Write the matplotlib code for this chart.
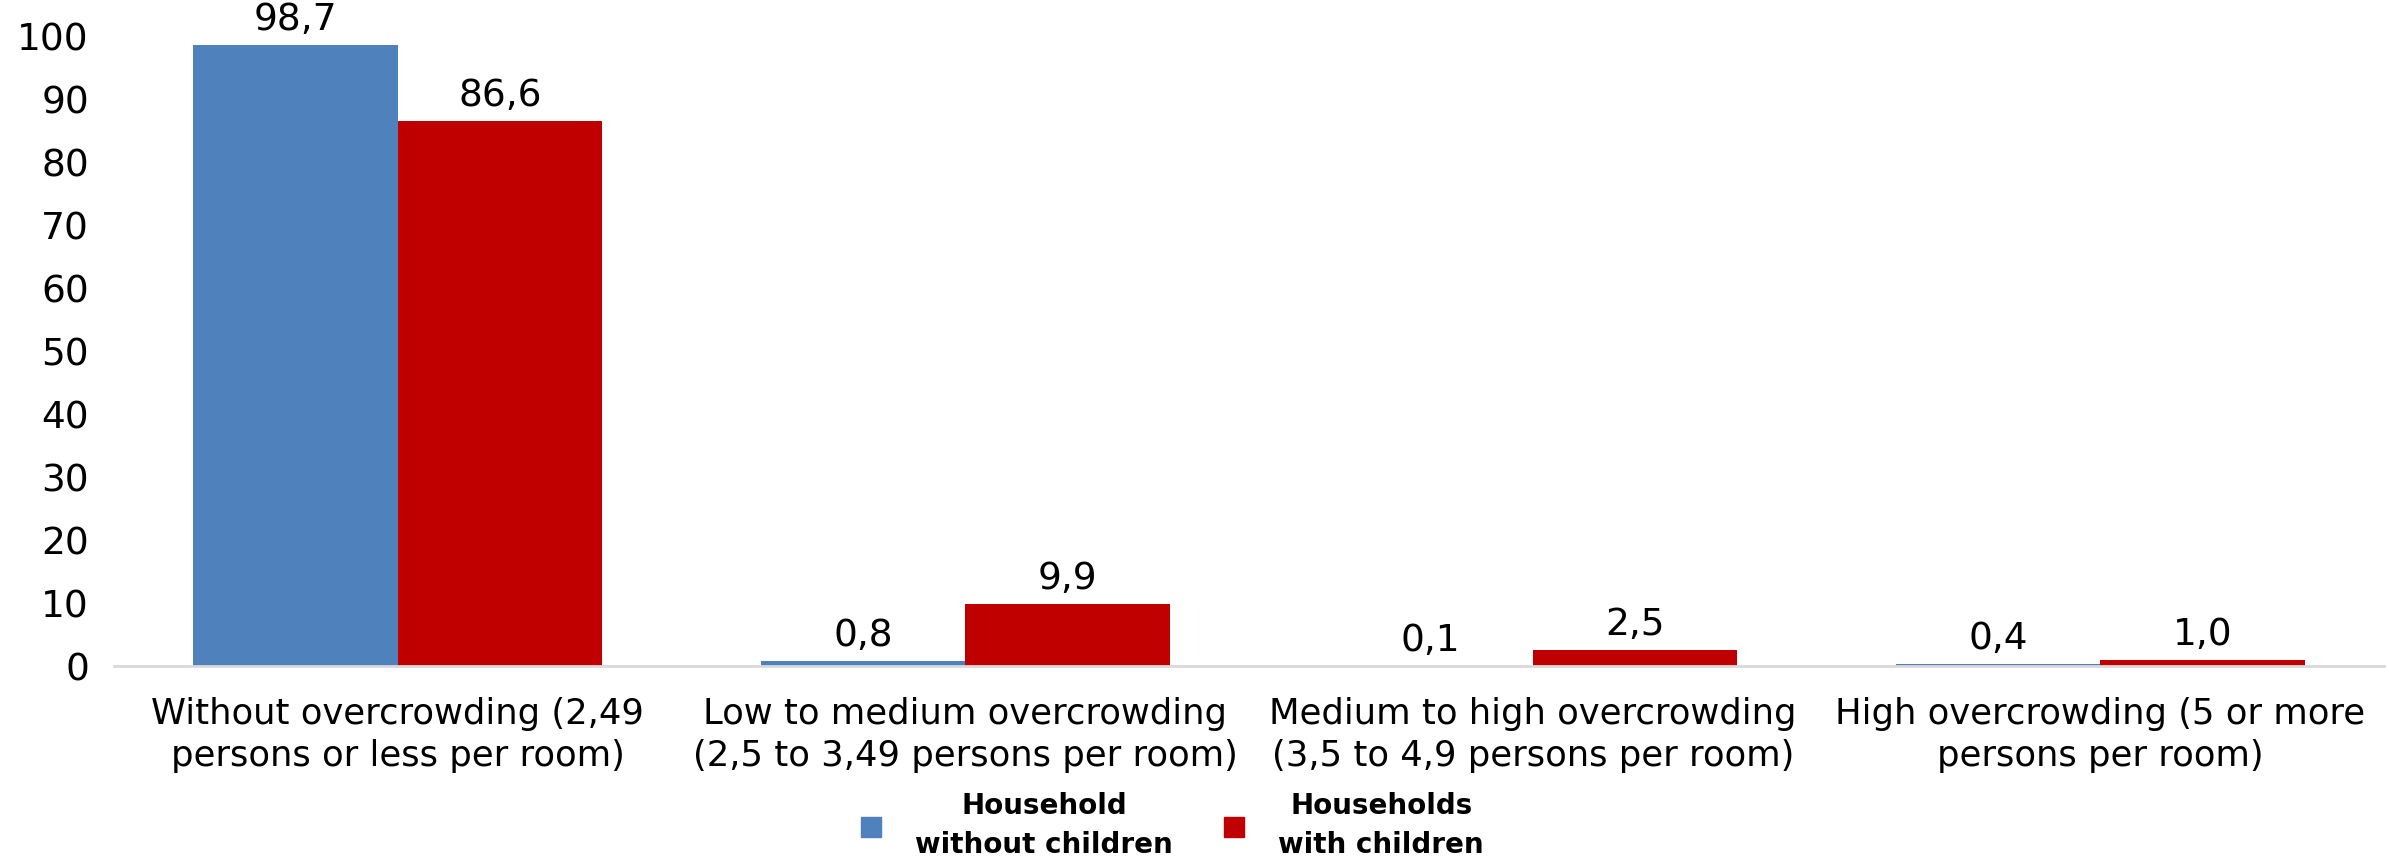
import matplotlib.pyplot as plt
from matplotlib.lines import Line2D
import numpy as np

# datos
categorias = [
    "Without overcrowding (2,49\npersons or less per room)",
    "Low to medium overcrowding\n(2,5 to 3,49 persons per room)",
    "Medium to high overcrowding\n(3,5 to 4,9 persons per room)",
    "High overcrowding (5 or more\npersons per room)",
]
sin_ninos = [98.7, 0.8, 0.1, 0.4]
con_ninos = [86.6, 9.9, 2.5, 1.0]
series_labels = ["Household\nwithout children", "Households\nwith children"]

azul = "#4f81bd"
rojo = "#c00000"

plt.rcParams["font.family"] = ["DejaVu Sans"]

fig = plt.figure(figsize=(23.89, 8.64), dpi=100)
ax = fig.add_axes([0.0477, 0.229, 0.9503, 0.7286])

x = np.arange(len(categorias))
ancho = 0.36
b1 = ax.bar(x - ancho / 2, sin_ninos, ancho, color=azul)
b2 = ax.bar(x + ancho / 2, con_ninos, ancho, color=rojo)

# etiquetas de valores
for barras in (b1, b2):
    for b in barras:
        v = b.get_height()
        ax.annotate(f"{v:.1f}".replace(".", ","),
                    (b.get_x() + b.get_width() / 2, v),
                    xytext=(0, 5), textcoords="offset points",
                    ha="center", va="bottom", fontsize=27, annotation_clip=False)

ax.set_xlim(-0.5, len(categorias) - 0.5)
ax.set_ylim(0, 100)
ax.set_yticks(range(0, 101, 10))
ax.tick_params(axis="y", length=0, labelsize=27, pad=18)
ax.set_xticks(x)
ax.set_xticklabels(categorias, fontsize=25.5, linespacing=1.3)
ax.tick_params(axis="x", length=0, pad=22)

for s in ["top", "right", "left"]:
    ax.spines[s].set_visible(False)
ax.spines["bottom"].set_color("#d9d9d9")
ax.spines["bottom"].set_linewidth(2)

# leyenda
handles = [Line2D([], [], marker="s", linestyle="", color=azul, markersize=15),
           Line2D([], [], marker="s", linestyle="", color=rojo, markersize=15)]
leg = fig.legend(handles, series_labels, loc="center", bbox_to_anchor=(0.487, 0.044),
                 ncol=2, frameon=False, handletextpad=0.6, columnspacing=1.2,
                 prop={"size": 20, "weight": "bold"})
for t in leg.get_texts():
    t.set_multialignment("center")
    t.set_linespacing(1.5)

fig.savefig("out.png", dpi=100)
